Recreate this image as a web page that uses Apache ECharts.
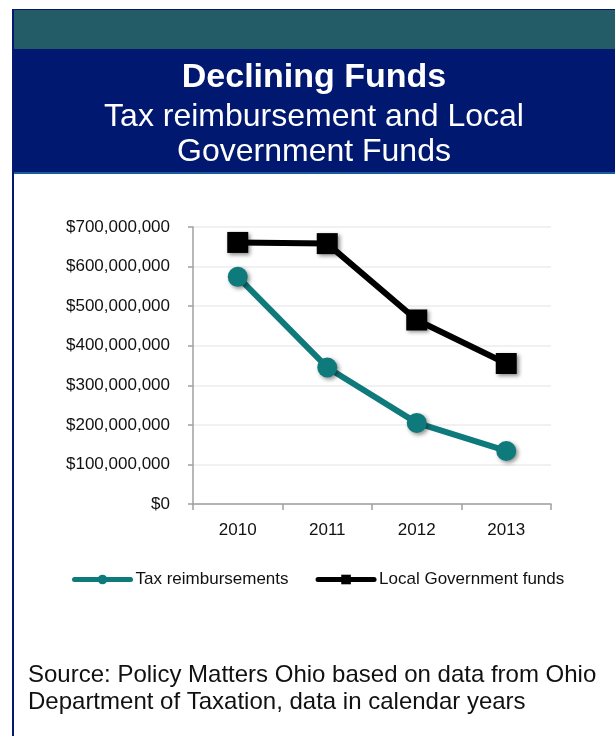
<!DOCTYPE html>
<html>
<head>
<meta charset="utf-8">
<script src="https://cdn.jsdelivr.net/npm/echarts@6/dist/echarts.min.js"></script>
<style>
html,body{margin:0;padding:0;background:#fff;}
#chart{width:615px;height:736px;}
</style>
</head>
<body>
<div id="chart"></div>
<script>
var years = ['2010', '2011', '2012', '2013'];
var taxReimbursements = [574000000, 345000000, 205000000, 134000000];
var localGovernmentFunds = [661000000, 658000000, 465000000, 355000000];
var seriesNames = ['Tax reimbursements', 'Local Government funds'];
var titleText = 'Declining Funds';
var subtitleLines = ['Tax reimbursement and Local', 'Government Funds'];
var sourceLines = ['Source: Policy Matters Ohio based on data from Ohio', 'Department of Taxation, data in calendar years'];

function money(v) {
  var s = String(Math.round(v));
  return '$' + s.replace(/\B(?=(\d{3})+(?!\d))/g, ',');
}

var FONT = '"Liberation Sans", Arial, sans-serif';
var chart = echarts.init(document.getElementById('chart'), null, {renderer: 'canvas'});
var shadow = {shadowColor: 'rgba(0,0,0,0.45)', shadowBlur: 4, shadowOffsetX: 2, shadowOffsetY: 2};

chart.setOption({
  backgroundColor: '#ffffff',
  animation: false,
  graphic: [
    {type: 'rect', shape: {x: 12, y: 9, width: 2, height: 727}, style: {fill: '#03186e'}, z: 1},
    {type: 'rect', shape: {x: 12, y: 9, width: 603, height: 2}, style: {fill: '#03186e'}, z: 1},
    {type: 'rect', shape: {x: 14, y: 10, width: 601, height: 39}, style: {fill: '#235b67'}, z: 1},
    {type: 'rect', shape: {x: 14, y: 49, width: 601, height: 123}, style: {fill: '#011870'}, z: 1},
    {type: 'rect', shape: {x: 14, y: 172, width: 601, height: 2}, style: {fill: '#1a5d9f'}, z: 1},
    {type: 'text', x: 314, y: 78, z: 2, style: {text: titleText, fill: '#ffffff', font: 'bold 34px ' + FONT, textAlign: 'center', textVerticalAlign: 'middle'}},
    {type: 'text', x: 314, y: 117, z: 2, style: {text: subtitleLines[0], fill: '#ffffff', font: '32px ' + FONT, textAlign: 'center', textVerticalAlign: 'middle'}},
    {type: 'text', x: 314, y: 152, z: 2, style: {text: subtitleLines[1], fill: '#ffffff', font: '32px ' + FONT, textAlign: 'center', textVerticalAlign: 'middle'}},
    {type: 'text', x: 28, y: 675, z: 2, style: {text: sourceLines[0], fill: '#111111', font: '24px ' + FONT, textAlign: 'left', textVerticalAlign: 'middle'}},
    {type: 'text', x: 28, y: 702, z: 2, style: {text: sourceLines[1], fill: '#111111', font: '24px ' + FONT, textAlign: 'left', textVerticalAlign: 'middle'}}
  ],
  legend: {
    left: 72,
    top: 571,
    padding: 0,
    itemWidth: 56,
    itemHeight: 12,
    itemGap: 27,
    lineStyle: {width: 5, cap: 'round'},
    itemStyle: {shadowBlur: 0, shadowOffsetX: 0, shadowOffsetY: 0},
    textStyle: {fontFamily: FONT, fontSize: 17, color: '#111111'},
    data: seriesNames
  },
  grid: {left: 193, right: 64, top: 227, bottom: 232},
  xAxis: {
    type: 'category',
    data: years,
    boundaryGap: true,
    axisLine: {lineStyle: {color: '#a0a0a0', width: 1.5}},
    axisTick: {show: true, length: 6, lineStyle: {color: '#a0a0a0', width: 1.5}},
    axisLabel: {fontFamily: FONT, fontSize: 17, color: '#111111', margin: 18}
  },
  yAxis: {
    type: 'value',
    min: 0,
    max: 700000000,
    interval: 100000000,
    axisLine: {show: true, lineStyle: {color: '#a0a0a0', width: 1.5}},
    axisTick: {show: true, length: 5, lineStyle: {color: '#a0a0a0', width: 1.5}},
    splitLine: {lineStyle: {color: '#ececec', width: 1.5}},
    axisLabel: {fontFamily: FONT, fontSize: 17, color: '#111111', margin: 23, formatter: money}
  },
  series: [
    {
      name: seriesNames[0],
      type: 'line',
      data: taxReimbursements,
      symbol: 'circle',
      symbolSize: 20,
      color: '#0f7a7c',
      lineStyle: {width: 6, color: '#0f7a7c'},
      itemStyle: Object.assign({color: '#0f7a7c'}, shadow),
      z: 3
    },
    {
      name: seriesNames[1],
      type: 'line',
      data: localGovernmentFunds,
      symbol: 'rect',
      symbolSize: 21,
      color: '#000000',
      lineStyle: {width: 6, color: '#000000'},
      itemStyle: Object.assign({color: '#000000'}, shadow),
      z: 4
    }
  ]
});
</script>
</body>
</html>
